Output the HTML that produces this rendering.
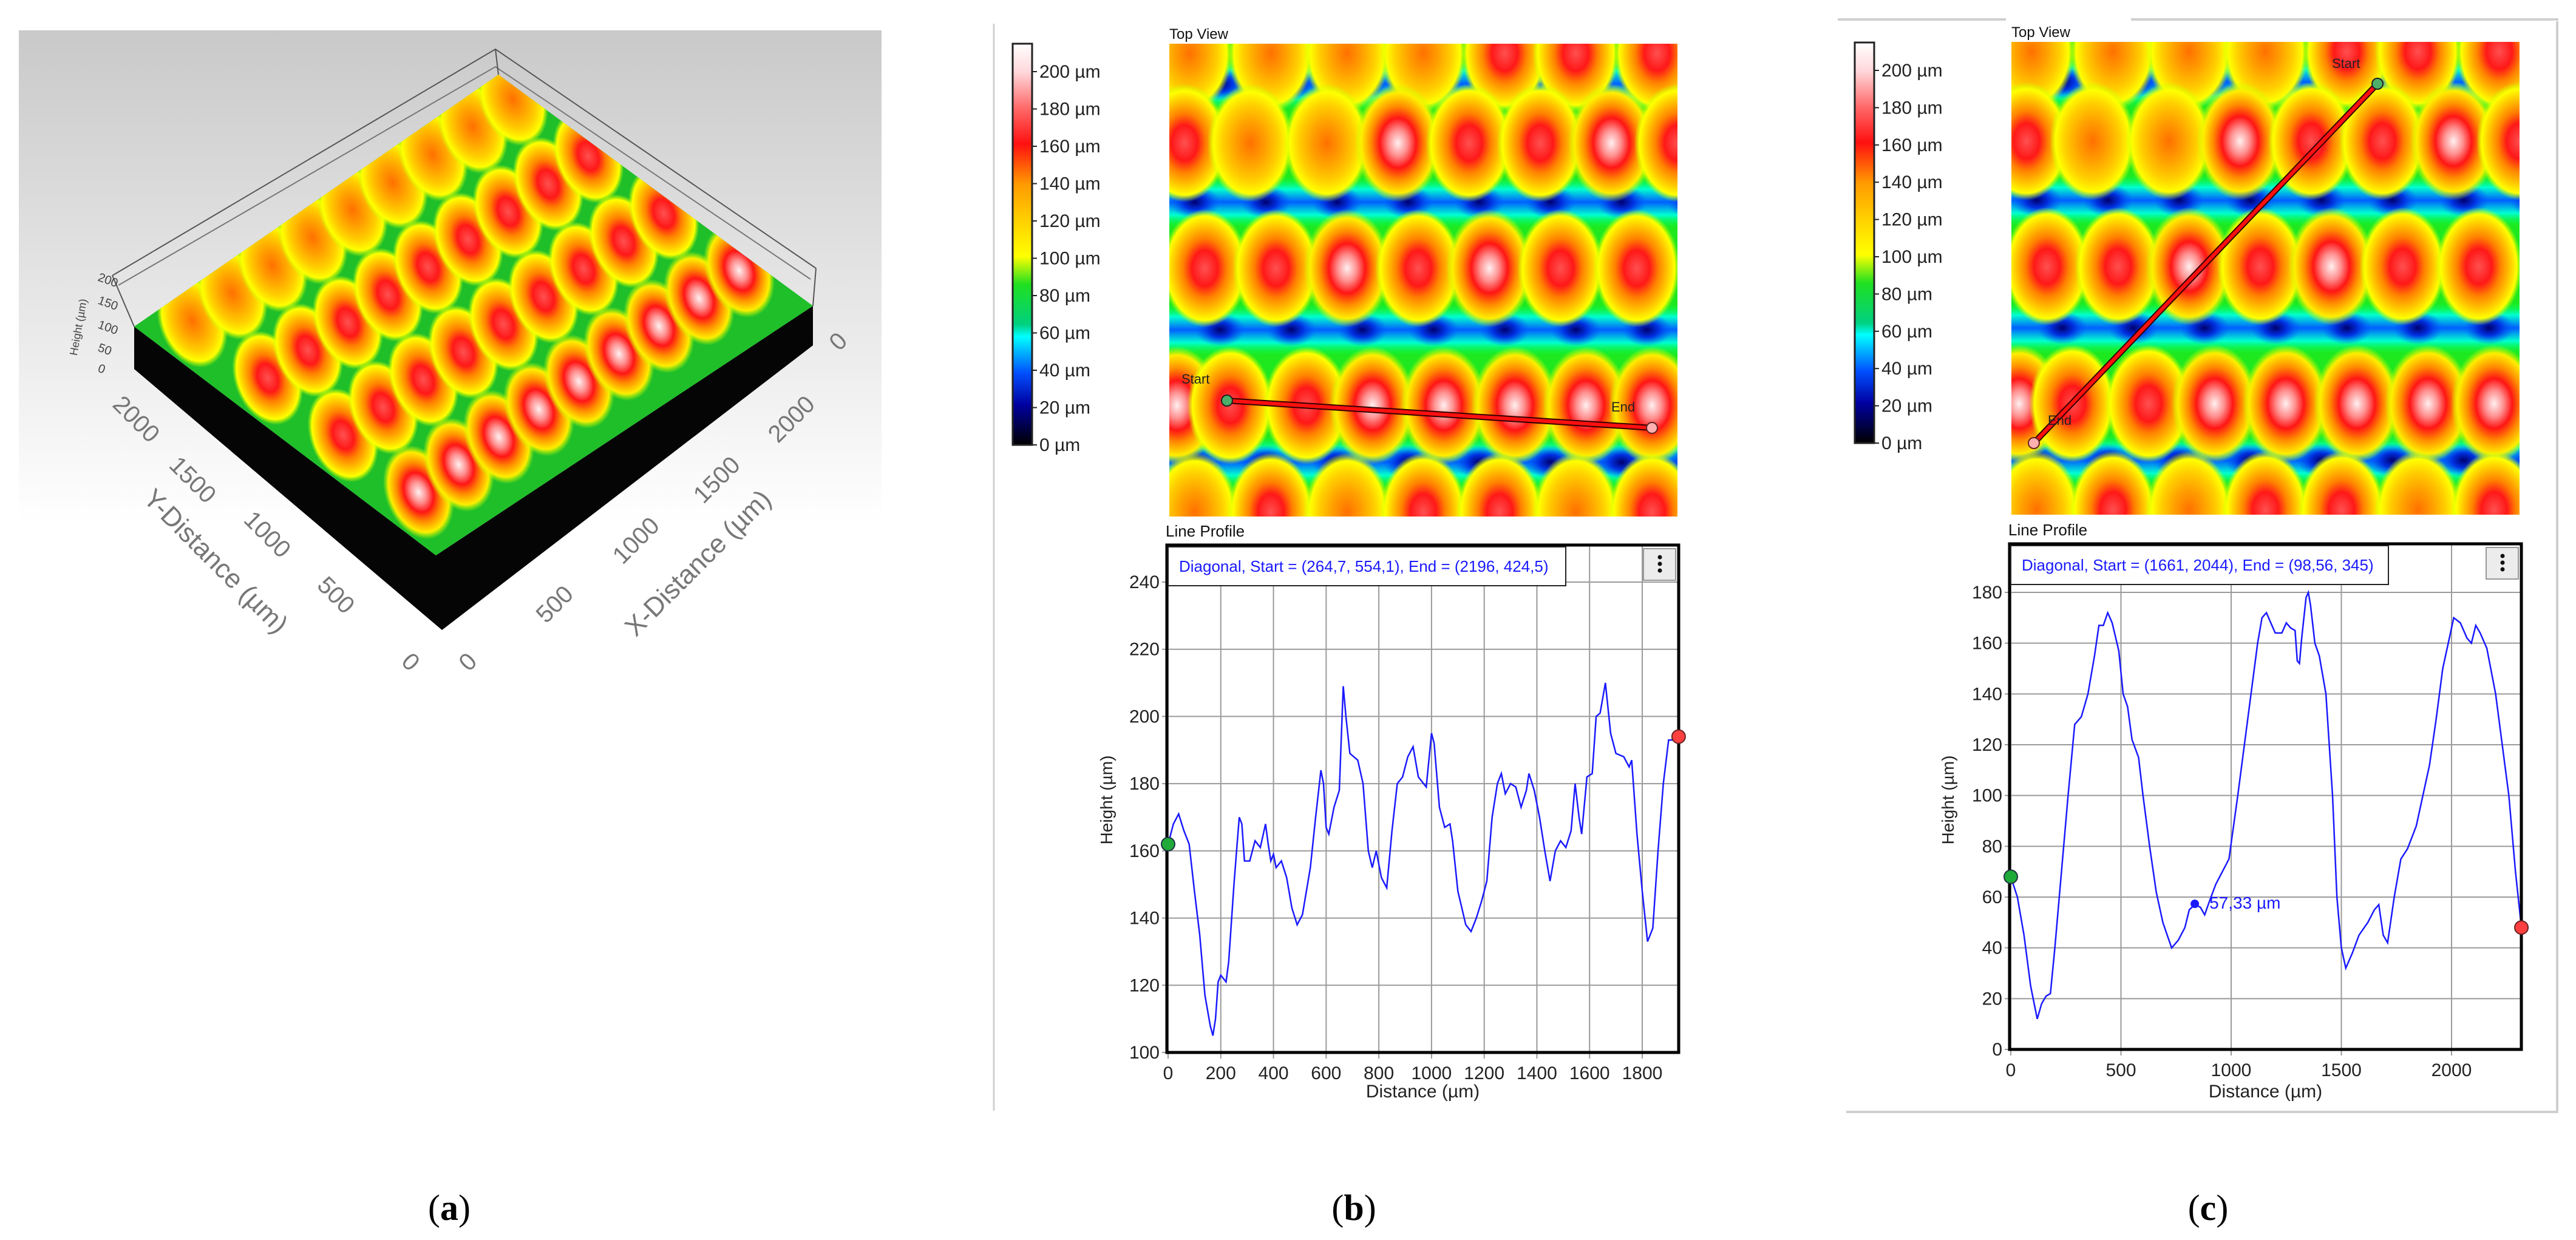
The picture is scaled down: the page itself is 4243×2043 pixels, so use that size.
<!DOCTYPE html>
<html><head><meta charset="utf-8"><style>
html,body{margin:0;padding:0;background:#fff;}
svg{display:block;font-family:"Liberation Sans",sans-serif;}
</style></head><body>
<svg id="root" width="4243" height="2043" viewBox="0 0 4243 2043" xmlns="http://www.w3.org/2000/svg">
<defs>
<linearGradient id="bgA" x1="0" y1="0" x2="0" y2="1"><stop offset="0" stop-color="#c9c9c9"/><stop offset="1" stop-color="#ffffff"/></linearGradient>
<linearGradient id="cbar" x1="0" y1="0" x2="0" y2="1">
<stop offset="0" stop-color="#ffffff"/><stop offset="0.07" stop-color="#ffd8dc"/><stop offset="0.16" stop-color="#ff6a6a"/><stop offset="0.25" stop-color="#ff1010"/><stop offset="0.35" stop-color="#ff9a00"/><stop offset="0.44" stop-color="#ffd000"/><stop offset="0.53" stop-color="#ffff00"/><stop offset="0.6" stop-color="#20e020"/><stop offset="0.7" stop-color="#00d080"/><stop offset="0.73" stop-color="#00ffff"/><stop offset="0.82" stop-color="#0050ff"/><stop offset="0.9" stop-color="#0000a0"/><stop offset="1" stop-color="#000000"/></linearGradient>
<linearGradient id="vband" x1="0" y1="0" x2="0" y2="1"><stop offset="0" stop-color="#00ff40" stop-opacity="0"/><stop offset="0.25" stop-color="#00ffd0"/><stop offset="0.5" stop-color="#0060ff"/><stop offset="0.75" stop-color="#00ffd0"/><stop offset="1" stop-color="#00ff40" stop-opacity="0"/></linearGradient>
<radialGradient id="gO"><stop offset="0" stop-color="#ff7000"/><stop offset="0.35" stop-color="#ffa000"/><stop offset="0.65" stop-color="#ffd000"/><stop offset="0.86" stop-color="#ffff00"/><stop offset="1" stop-color="#c0ff00" stop-opacity="0"/></radialGradient>
<radialGradient id="gR"><stop offset="0" stop-color="#ff5050"/><stop offset="0.3" stop-color="#ff1818"/><stop offset="0.5" stop-color="#ff8000"/><stop offset="0.72" stop-color="#ffc800"/><stop offset="0.88" stop-color="#ffff00"/><stop offset="1" stop-color="#c0ff00" stop-opacity="0"/></radialGradient>
<radialGradient id="gW"><stop offset="0" stop-color="#fff0f0"/><stop offset="0.22" stop-color="#ff9090"/><stop offset="0.42" stop-color="#ff1515"/><stop offset="0.62" stop-color="#ff8a00"/><stop offset="0.85" stop-color="#ffee00"/><stop offset="1" stop-color="#c0ff00" stop-opacity="0"/></radialGradient>
<radialGradient id="gV"><stop offset="0" stop-color="#000070"/><stop offset="0.45" stop-color="#0030e0"/><stop offset="1" stop-color="#0060ff" stop-opacity="0"/></radialGradient>
<clipPath id="clipB"><rect x="1926" y="72" width="837" height="779"/></clipPath>
<clipPath id="clipC"><rect x="3313" y="69" width="837" height="779"/></clipPath>
<clipPath id="clipA"><polygon points="221,538 718,915 1339,504 821,123"/></clipPath>
</defs>

<!-- Panel a -->
<rect x="31" y="50" width="1421" height="811" fill="url(#bgA)"/>
<g id="panelA">
<polyline points="185,454 816,81 1344,442" fill="none" stroke="#555" stroke-width="2"/>
<polyline points="195,470 816,110 1335,460" fill="none" stroke="#777" stroke-width="2"/>
<line x1="816" y1="81" x2="821" y2="123" stroke="#555" stroke-width="2"/>
<line x1="185" y1="454" x2="221" y2="538" stroke="#555" stroke-width="2"/>
<line x1="1344" y1="442" x2="1339" y2="504" stroke="#555" stroke-width="2"/>
<polygon points="221,538 221,608 728,1038 1339,569 1339,504 718,915" fill="#050505"/>
<polygon points="221,538 718,915 1339,504 821,123" fill="#1fbf2a"/>
<g id="blobsA" clip-path="url(#clipA)"></g>
</g>
<g font-size="40" fill="#777">
<text x="215" y="700" transform="rotate(45 215 700)" text-anchor="middle">2000</text>
<text x="308" y="800" transform="rotate(45 308 800)" text-anchor="middle">1500</text>
<text x="431" y="890" transform="rotate(45 431 890)" text-anchor="middle">1000</text>
<text x="544" y="990" transform="rotate(45 544 990)" text-anchor="middle">500</text>
<text x="667" y="1100" transform="rotate(45 667 1100)" text-anchor="middle">0</text>
<text x="345" y="935" transform="rotate(45 345 935)" text-anchor="middle" font-size="44">Y-Distance (µm)</text>
<text x="780" y="1100" transform="rotate(-45 780 1100)" text-anchor="middle">0</text>
<text x="923" y="1005" transform="rotate(-45 923 1005)" text-anchor="middle">500</text>
<text x="1057" y="900" transform="rotate(-45 1057 900)" text-anchor="middle">1000</text>
<text x="1190" y="800" transform="rotate(-45 1190 800)" text-anchor="middle">1500</text>
<text x="1313" y="700" transform="rotate(-45 1313 700)" text-anchor="middle">2000</text>
<text x="1390" y="572" transform="rotate(-45 1390 572)" text-anchor="middle">0</text>
<text x="1160" y="938" transform="rotate(-45 1160 938)" text-anchor="middle" font-size="44">X-Distance (µm)</text>
<text x="160" y="462" font-size="20" fill="#444" transform="rotate(20 160 462)">200</text>
<text x="160" y="500" font-size="20" fill="#444" transform="rotate(20 160 500)">150</text>
<text x="160" y="540" font-size="20" fill="#444" transform="rotate(20 160 540)">100</text>
<text x="160" y="578" font-size="20" fill="#444" transform="rotate(20 160 578)">50</text>
<text x="160" y="612" font-size="20" fill="#444" transform="rotate(20 160 612)">0</text>
<text x="135" y="540" font-size="18" fill="#444" transform="rotate(-80 135 540)" text-anchor="middle">Height (µm)</text>
</g>

<!-- separators -->
<line x1="1637" y1="39" x2="1637" y2="1830" stroke="#d0d0d0" stroke-width="3"/>
<g stroke="#cfcfcf" stroke-width="4">
<line x1="3027" y1="32" x2="3304" y2="32"/><line x1="3510" y1="32" x2="4214" y2="32"/>
<line x1="4212" y1="35" x2="4212" y2="1832"/><line x1="3041" y1="1832" x2="4214" y2="1832"/>
</g>

<g id="panelB"></g>
<g id="panelC"></g>

<g font-family="Liberation Serif, serif" font-size="60" text-anchor="middle">
<text x="740" y="2010">(<tspan font-weight="bold">a</tspan>)</text>
<text x="2230" y="2010">(<tspan font-weight="bold">b</tspan>)</text>
<text x="3637" y="2010">(<tspan font-weight="bold">c</tspan>)</text>
</g>
</svg>
<script>
// ---- chart data ----
const bDist = [0,20,40,60,80,100,120,140,160,170,180,190,200,220,230,250,260,270,280,290,310,330,350,370,380,390,400,410,430,450,470,490,510,540,560,580,590,600,610,630,650,665,675,690,720,740,760,775,790,810,830,850,870,890,910,930,950,980,1000,1010,1030,1050,1070,1080,1100,1130,1150,1170,1190,1210,1230,1250,1265,1280,1300,1320,1340,1360,1370,1390,1410,1430,1450,1470,1490,1510,1530,1545,1560,1570,1590,1610,1625,1640,1660,1680,1700,1730,1750,1760,1780,1800,1820,1840,1860,1880,1900,1920,1938];
const bHeight = [162,168,171,166,162,148,135,117,108,105,110,121,123,121,127,150,160,170,168,157,157,163,161,168,162,157,159,155,157,152,143,138,141,155,170,184,180,167,165,173,178,209,200,189,187,180,160,155,160,152,149,166,180,182,188,191,182,179,195,192,173,167,168,163,148,138,136,140,145,151,170,180,183,177,180,179,173,178,183,178,170,160,151,160,163,161,166,180,170,165,182,183,200,201,210,195,189,188,185,187,165,148,133,137,160,180,193,193,194];
const bXTicks = [0,200,400,600,800,1000,1200,1400,1600,1800];
const bYTicks = [100,120,140,160,180,200,220,240];
const cDist = [0,30,60,90,120,140,160,180,200,230,260,290,320,350,380,400,420,440,460,490,510,530,550,580,600,630,660,690,710,730,760,790,810,835,860,880,900,930,960,990,1030,1060,1090,1120,1140,1160,1180,1200,1230,1250,1270,1290,1300,1310,1320,1340,1350,1360,1380,1400,1430,1460,1480,1500,1520,1550,1580,1620,1650,1670,1690,1710,1740,1770,1800,1840,1870,1900,1930,1960,1990,2010,2040,2070,2090,2110,2130,2160,2200,2230,2260,2290,2317];
const cHeight = [68,60,45,25,12,18,21,22,40,70,100,128,131,140,155,167,167,172,168,157,140,135,122,115,100,80,62,50,45,40,43,48,55,57,56,53,58,65,70,75,100,120,140,160,170,172,168,164,164,168,166,165,153,152,162,178,180,175,160,155,140,100,60,40,32,38,45,50,55,57,45,42,60,75,79,88,100,112,130,150,162,170,168,162,160,167,164,158,140,120,100,70,48];
const cXTicks = [0,500,1000,1500,2000];
const cYTicks = [0,20,40,60,80,100,120,140,160,180];
const cbTicks = [0,20,40,60,80,100,120,140,160,180,200];
const cMarker = [835, 57.33];

const NS = 'http://www.w3.org/2000/svg';
function mk(tag, attrs, parent, txt){
  const e = document.createElementNS(NS, tag);
  for (const k in attrs) e.setAttribute(k, attrs[k]);
  if (txt !== undefined) e.textContent = txt;
  parent.appendChild(e);
  return e;
}

// heatmap blobs (fractions of image)
const blobRows = [
 [0.02,[0.04,0.2,0.35,0.5,0.66,0.8,0.96],['gO','gO','gO','gO','gR','gR','gR']],
 [0.21,[0.03,0.16,0.31,0.45,0.59,0.73,0.87,1.0],['gR','gO','gO','gW','gR','gR','gW','gR']],
 [0.475,[0.07,0.21,0.35,0.49,0.63,0.77,0.92],['gR','gR','gW','gR','gW','gR','gR']],
 [0.765,[0.015,0.12,0.27,0.40,0.54,0.68,0.82,0.95],['gW','gR','gR','gW','gW','gW','gW','gW']],
 [0.99,[0.05,0.2,0.35,0.5,0.65,0.8,0.95],['gO','gR','gO','gR','gR','gO','gR']]];
const valleyRows = [0.085,0.335,0.605,0.885];

function heat(g, x, y, w, h, clip){
  const hg = mk('g', {'clip-path':'url(#'+clip+')'}, g);
  
  
  mk('rect', {x:x, y:y, width:w, height:h, fill:'#1ee81e'}, hg);
  valleyRows.forEach((vy, r) => {
    mk('rect', {x:x, y:y+(vy-0.055)*h, width:w, height:0.11*h, fill:'url(#vband)'}, hg);
    for (let i = 0; i < 8; i++) {
      const fx = (r % 2 ? 0.05 : 0.1) + i * 0.14;
      mk('ellipse', {cx:x+fx*w, cy:y+vy*h, rx:0.05*w, ry:0.035*h, fill:'url(#gV)'}, hg);
    }
  });
  blobRows.forEach(row => {
    row[1].forEach((fx, i) => {
      mk('ellipse', {cx:x+fx*w, cy:y+row[0]*h, rx:0.085*w, ry:0.125*h, fill:'url(#'+row[2][i]+')'}, hg);
    });
  });
}

function colorbar(g, x, yTop, yBot, labX){
  const cb = mk('g', {}, g);
  
  
  const bw = 32;
  const y0 = yBot, y200 = yTop + 46;
  const sc = (y0 - y200) / 200;
  mk('rect', {x:x, y:yTop, width:bw, height:yBot-yTop, fill:'url(#cbar)', stroke:'#222', 'stroke-width':3}, cb);
  cbTicks.forEach(v => {
    const yy = y0 - v * sc;
    mk('line', {x1:x+bw, y1:yy, x2:x+bw+8, y2:yy, stroke:'#222', 'stroke-width':2}, cb);
    const t = mk('text', {x:labX, y:yy+10, 'font-size':30, fill:'#222'}, cb, v + ' µm');
    
    
  });
}

function chart(g, o){
  const X = d => o.x0 + d * o.xs;
  const Y = v => o.y0 - (v - o.ymin) * o.ys;
  const lp = mk('text', {x:o.l-2, y:o.t-14, 'font-size':26, fill:'#111'}, g, 'Line Profile');
  
  
  const grid = mk('g', {stroke:'#9a9a9a', 'stroke-width':2}, g);
  
  
  o.yt.forEach(v => {
    mk('line', {x1:o.l-8, y1:Y(v), x2:o.r, y2:Y(v)}, grid);
    const t = mk('text', {x:o.l-12, y:Y(v)+10, 'font-size':30, fill:'#222', 'text-anchor':'end'}, g, v);
    
    
  });
  o.xt.forEach(v => {
    mk('line', {x1:X(v), y1:o.t, x2:X(v), y2:o.b+10}, grid);
    const t = mk('text', {x:X(v), y:o.b+44, 'font-size':30, fill:'#222', 'text-anchor':'middle'}, g, v);
    
    
  });
  const pts = o.d.map((d, i) => X(d).toFixed(1) + ',' + Y(o.h[i]).toFixed(1)).join(' ');
  const line = mk('polyline', {points:pts, fill:'none', stroke:'#1a1aff', 'stroke-width':2.5}, g);
  
  
  const fr = mk('rect', {x:o.l, y:o.t, width:o.r-o.l, height:o.b-o.t, fill:'none', stroke:'#000', 'stroke-width':5}, g);
  
  
  const lg = mk('g', {}, g);
  
  
  mk('rect', {x:o.l+2, y:o.t+3, width:o.lw, height:64, fill:'#fff', stroke:'#222', 'stroke-width':2}, lg);
  mk('text', {x:o.l+20, y:o.t+44, 'font-size':26, fill:'#1a1aff'}, lg, o.legend);
  const mb = mk('g', {}, g);
  
  
  mk('rect', {x:o.r-58, y:o.t+6, width:53, height:52, fill:'#ececec', stroke:'#999', 'stroke-width':2}, mb);
  [0,1,2].forEach(i => mk('circle', {cx:o.r-31, cy:o.t+20+i*11, r:3.5, fill:'#111'}, mb));
  const s = mk('circle', {cx:X(o.d[0]), cy:Y(o.h[0]), r:11, fill:'#1faa3a', stroke:'#234', 'stroke-width':2}, g);
  
  
  const n = o.d.length - 1;
  const e = mk('circle', {cx:X(o.d[n]), cy:Y(o.h[n]), r:11, fill:'#ff4040', stroke:'#622', 'stroke-width':2}, g);
  
  
  const yl = mk('text', {x:o.yl, y:1318, 'font-size':28, fill:'#222', 'text-anchor':'middle', transform:'rotate(-90 '+o.yl+' 1318)'}, g, 'Height (µm)');
  
  
  const xl = mk('text', {x:(o.l+o.r)/2, y:1808, 'font-size':30, fill:'#222', 'text-anchor':'middle'}, g, 'Distance (µm)');
  
  
  return {X, Y};
}

function topView(g, x, y, w, h, clip, sx, sy, ex, ey, stx, sty, etx, ety){
  const tv = mk('text', {x:x, y:y-8, 'font-size':24, fill:'#111'}, g, 'Top View');
  
  
  heat(g, x, y, w, h, clip);
  const pl = mk('line', {x1:sx, y1:sy, x2:ex, y2:ey, stroke:'#300', 'stroke-width':10}, g);
  
  
  mk('line', {x1:sx, y1:sy, x2:ex, y2:ey, stroke:'#ff1010', 'stroke-width':6}, g);
  const s = mk('circle', {cx:sx, cy:sy, r:9, fill:'#4caf6a', stroke:'#222', 'stroke-width':2}, g);
  
  
  const e = mk('circle', {cx:ex, cy:ey, r:9, fill:'#ffb0b0', stroke:'#622', 'stroke-width':2}, g);
  
  
  mk('text', {x:stx, y:sty, 'font-size':22, fill:'#222'}, g, 'Start');
  mk('text', {x:etx, y:ety, 'font-size':22, fill:'#222'}, g, 'End');
}

const gB = document.getElementById('panelB');


colorbar(gB, 1668, 72, 733, 1712);
topView(gB, 1926, 72, 837, 779, 'clipB', 2021, 660, 2721, 705, 1946, 632, 2654, 678);
chart(gB, {l:1922, r:2765, t:898, b:1734, x0:1924, xs:781/1800, y0:1734, ymin:100, ys:775/140, xt:bXTicks, yt:bYTicks, d:bDist, h:bHeight, lw:655, yl:1832, legend:'Diagonal, Start = (264,7, 554,1), End = (2196, 424,5)'});

const gC = document.getElementById('panelC');


colorbar(gC, 3055, 70, 730, 3099);
topView(gC, 3313, 69, 837, 779, 'clipC', 3916, 138, 3350, 730, 3841, 112, 3373, 700);
const cc = chart(gC, {l:3310, r:4153, t:896, b:1729, x0:3312, xs:726/2000, y0:1729, ymin:0, ys:753/180, xt:cXTicks, yt:cYTicks, d:cDist, h:cHeight, lw:622, yl:3218, legend:'Diagonal, Start = (1661, 2044), End = (98,56, 345)'});
const mkr = mk('circle', {cx:cc.X(cMarker[0]), cy:cc.Y(cMarker[1]), r:7, fill:'#1a1aff'}, gC);


const mt = mk('text', {x:cc.X(cMarker[0])+24, y:cc.Y(cMarker[1])+8, 'font-size':28, fill:'#1a1aff'}, gC, cMarker[1].toFixed(2).replace('.', ',') + ' µm');



// 3D surface blobs
const gA = document.getElementById('blobsA');
const A0 = [221,538], AB = [600,-415], AF = [497,377];
const aRows = [0.12,0.37,0.62,0.87];
const aFill = ['gO','gR','gR','gW'];
aRows.forEach((t, r) => {
  for (let i = 0; i < 9; i++) {
    const s = 0.06 + i * 0.11;
    const cx = A0[0] + AB[0]*s + AF[0]*t;
    const cy = A0[1] + AB[1]*s + AF[1]*t - 30;
    mk('ellipse', {cx:cx, cy:cy, rx:55, ry:80, fill:'url(#'+aFill[r]+')', transform:'rotate(-20 '+cx+' '+cy+')'}, gA);
  }
});
</script>
</body></html>
